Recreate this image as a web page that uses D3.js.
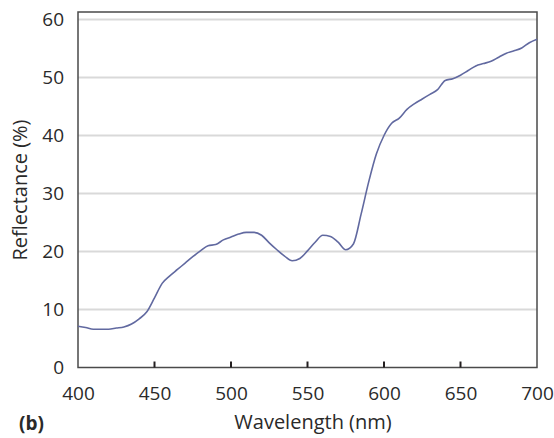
<!DOCTYPE html>
<html><head><meta charset="utf-8">
<script src="https://cdn.jsdelivr.net/npm/d3@7"></script>
<style>body{margin:0;background:#fff}svg{display:block}text{font-family:"Open Sans",sans-serif;fill:#2a2a2a}</style>
</head><body><svg id="c" width="554" height="438"></svg>
<script>
const wavelengths = [400,405,410,415,420,425,430,435,440,445,450,455,460,465,470,475,480,485,490,495,500,505,510,515,520,525,530,535,540,545,550,555,560,565,570,575,580,585,590,595,600,605,610,615,620,625,630,635,640,645,650,655,660,665,670,675,680,685,690,695,700];
const reflectance = [7.1,6.9,6.6,6.6,6.6,6.8,7.0,7.5,8.4,9.6,12.0,14.5,15.8,16.9,18.0,19.1,20.1,21.0,21.2,22.0,22.5,23.0,23.3,23.3,22.8,21.5,20.3,19.2,18.4,18.8,20.1,21.6,22.8,22.6,21.6,20.3,21.3,26.4,32.0,36.8,40.0,42.1,43.0,44.5,45.5,46.3,47.1,47.9,49.5,49.8,50.4,51.2,52.0,52.4,52.8,53.5,54.2,54.6,55.1,56.0,56.6];
const xTicks = [400,450,500,550,600,650,700];
const yTicks = [0,10,20,30,40,50,60];

const svg = d3.select("#c");
const L = 78, R = 537, T = 12, B = 367.5;
const x = d3.scaleLinear().domain([400,700]).range([L,R]);
const y = d3.scaleLinear().domain([0,60]).range([B,19.5]);

svg.append("g").selectAll("line").data(yTicks.filter(d=>d>0)).join("line")
  .attr("x1",L).attr("x2",R).attr("y1",d=>y(d)).attr("y2",d=>y(d))
  .attr("stroke","#d9d9d9").attr("stroke-width",2);

svg.append("rect").attr("x",L).attr("y",T).attr("width",R-L).attr("height",B-T)
  .attr("fill","none").attr("stroke","#4a4a4a").attr("stroke-width",1.5);

const xa = svg.append("g").attr("transform",`translate(0,${B})`)
  .call(d3.axisBottom(x).tickValues(xTicks).tickSize(0).tickPadding(19).tickFormat(d3.format("d")));
xa.select(".domain").remove();
xa.selectAll("text").attr("font-size",19).attr("font-family","Open Sans, sans-serif").attr("fill","#2a2a2a");
svg.append("g").selectAll("line").data(xTicks.slice(1,-1)).join("line")
  .attr("x1",d=>x(d)).attr("x2",d=>x(d)).attr("y1",B).attr("y2",B-6)
  .attr("stroke","#231f20").attr("stroke-width",2);

const ya = svg.append("g").attr("transform",`translate(${L},0)`)
  .call(d3.axisLeft(y).tickValues(yTicks).tickSize(0).tickPadding(14).tickFormat(d3.format("d")));
ya.select(".domain").remove();
ya.selectAll("text").attr("font-size",19).attr("font-family","Open Sans, sans-serif").attr("fill","#2a2a2a");

svg.append("path").datum(wavelengths.map((w,i)=>[w,reflectance[i]]))
  .attr("d", d3.line().x(d=>x(d[0])).y(d=>y(d[1])).curve(d3.curveMonotoneX))
  .attr("fill","none").attr("stroke","#6169a0").attr("stroke-width",1.6);

svg.append("text").attr("transform","translate(27,190) rotate(-90)")
  .attr("text-anchor","middle").attr("font-size",20).text("Reflectance (%)");
svg.append("text").attr("x",313).attr("y",429).attr("text-anchor","middle")
  .attr("font-size",20).text("Wavelength (nm)");
svg.append("text").attr("x",19).attr("y",430).attr("font-size",19).attr("font-weight","bold").text("(b)");
</script></body></html>
